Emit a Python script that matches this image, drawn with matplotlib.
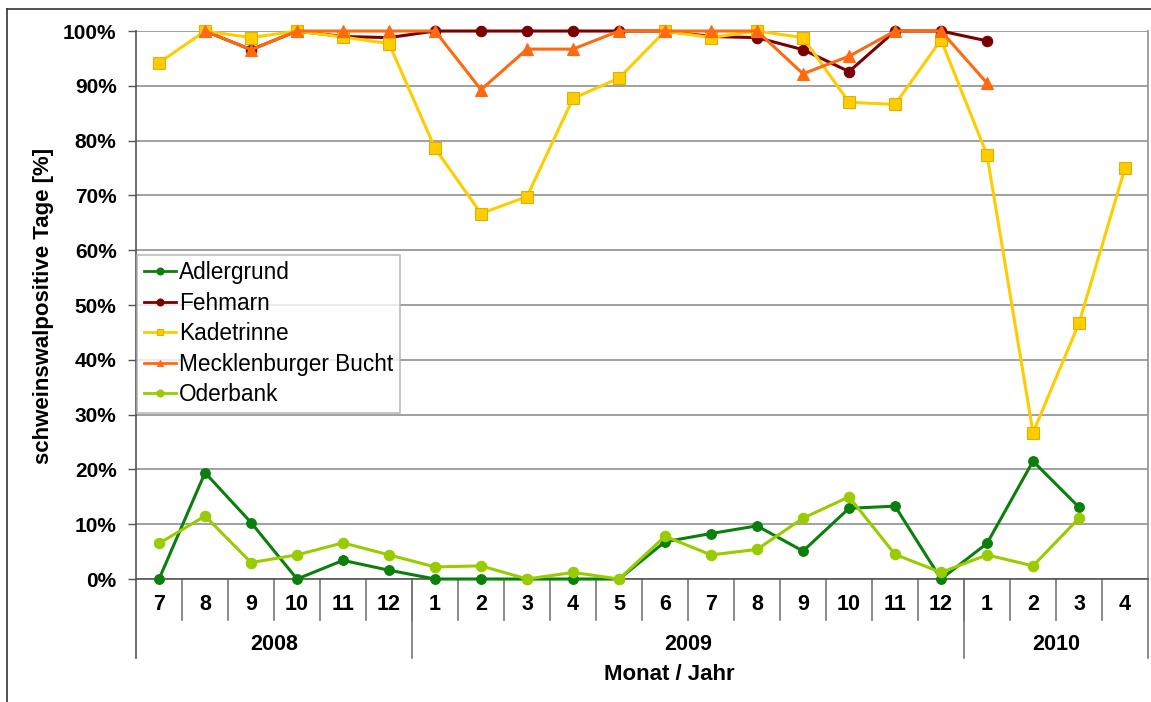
import numpy as np
import matplotlib
matplotlib.use('Agg')
from matplotlib import pyplot as plt
from matplotlib.lines import Line2D

plt.rcParams['font.family'] = ['Liberation Sans', 'DejaVu Sans']

# Monate / Jahre
months = ['7', '8', '9', '10', '11', '12',
          '1', '2', '3', '4', '5', '6', '7', '8', '9', '10', '11', '12',
          '1', '2', '3', '4']
years = ['2008', '2009', '2010']
year_counts = [6, 12, 4]

nan = np.nan
# Anteil schweinswalpositiver Tage in %
adlergrund = [0.0, 19.4, 10.3, 0.0, 3.4, 1.6,
              0.0, 0.0, 0.0, 0.0, 0.0, 6.8, 8.3, 9.7, 5.1, 12.9, 13.3, 0.0,
              6.5, 21.5, 13.1, nan]
fehmarn = [nan, 100.0, 96.6, 100.0, 99.0, 98.8,
           100.0, 100.0, 100.0, 100.0, 100.0, 100.0, 99.0, 98.8, 96.6, 92.6, 100.0, 100.0,
           98.2, nan, nan, nan]
kadetrinne = [94.2, 100.0, 98.8, 100.0, 98.9, 97.7,
              78.6, 66.7, 69.8, 87.7, 91.4, 100.0, 98.8, 100.0, 98.8, 87.0, 86.6, 98.4,
              77.4, 26.7, 46.7, 75.0]
mecklenburg = [nan, 100.0, 96.6, 100.0, 100.0, 100.0,
               100.0, 89.3, 96.7, 96.7, 100.0, 100.0, 100.0, 100.0, 92.2, 95.4, 100.0, 100.0,
               90.5, nan, nan, nan]
oderbank = [6.5, 11.5, 3.0, 4.4, 6.6, 4.4,
            2.2, 2.4, 0.0, 1.2, 0.0, 7.8, 4.4, 5.4, 11.1, 15.0, 4.5, 1.2,
            4.4, 2.4, 11.1, nan]

series = [
    ('Adlergrund', adlergrund, '#0b7f0b', '#0b7f0b', 'o', 7),
    ('Fehmarn', fehmarn, '#7a0000', '#7a0000', 'o', 7.5),
    ('Kadetrinne', kadetrinne, '#ffcc00', '#e0b000', 's', 8),
    ('Mecklenburger Bucht', mecklenburg, '#ff6a10', '#ff6a10', '^', 9),
    ('Oderbank', oderbank, '#99cc00', '#99cc00', 'o', 7.5),
]

fig = plt.figure(figsize=(11.51, 7.02), dpi=100)
ax = fig.add_axes([0.1182, 0.1752, 0.8792, 0.7806])

x = np.arange(len(months))
for name, vals, col, ecol, mk, ms in series:
    ax.plot(x, np.array(vals) / 100.0, color=col, lw=2.2, marker=mk, ms=ms,
            markerfacecolor=col, markeredgecolor=ecol, markeredgewidth=0.8,
            label=name, clip_on=False, zorder=3)

ax.set_xlim(-0.5, len(months) - 0.5)
ax.set_ylim(0, 1)
ax.set_yticks(np.arange(0, 1.01, 0.1))
ax.set_yticklabels(['%d%%' % v for v in range(0, 101, 10)],
                   fontsize=15, fontweight='bold')
ax.tick_params(axis='y', length=6, width=1, color='#555555', pad=8)
ax.set_xticks([])
ax.yaxis.grid(True, color='#999999', lw=1.3)
ax.set_axisbelow(True)

for s in ['top', 'left']:
    ax.spines[s].set_visible(False)
ax.spines['right'].set_color('#999999')
ax.spines['right'].set_linewidth(1.3)
ax.spines['bottom'].set_color('#555555')
ax.spines['bottom'].set_linewidth(1.2)

# linke Achse, nach unten verlaengert
ax.plot([-0.5, -0.5], [-0.144, 1.0], color='#555555', lw=1.2,
        clip_on=False, zorder=4)

trans = ax.get_xaxis_transform()
# Monatstrenner und -beschriftung
for i, m in enumerate(months):
    if i > 0:
        ax.plot([i - 0.5, i - 0.5], [0, -0.075], color='#777777', lw=1.2,
                transform=trans, clip_on=False)
    ax.text(i, -0.046, m, transform=trans, ha='center', va='center',
            fontsize=15.5, fontweight='bold')

# Jahrestrenner und -beschriftung
start = 0
for yr, n in zip(years, year_counts):
    end = start + n
    ax.plot([end - 0.5, end - 0.5], [0, -0.144], color='#777777', lw=1.2,
            transform=trans, clip_on=False)
    ax.text((start + end - 1) / 2.0, -0.12, yr, transform=trans, ha='center',
            va='center', fontsize=15.5, fontweight='bold')
    start = end

ax.text(0.527, -0.175, 'Monat / Jahr', transform=ax.transAxes, ha='center',
        va='center', fontsize=16, fontweight='bold')
fig.text(0.038, 0.564, 'schweinswalpositive Tage [%]', rotation=90,
         ha='center', va='center', fontsize=16, fontweight='bold')

leg = ax.legend(loc='upper left', bbox_to_anchor=(0.001, 0.592), fontsize=16.3,
                frameon=True, fancybox=False, handlelength=1.4,
                handletextpad=0.15, labelspacing=0.33, borderpad=0.3,
                borderaxespad=0.0)
leg.get_frame().set_edgecolor('#aaaaaa')
leg.get_frame().set_linewidth(1.2)
for h in leg.legend_handles:
    h.set_markersize(5)
    h.set_linewidth(2)

# Rahmen links und oben
fig.add_artist(Line2D([0.0065, 0.0065], [0, 0.987], color='#333333', lw=1.2))
fig.add_artist(Line2D([0.0065, 1.0], [0.987, 0.987], color='#333333', lw=1.2))

fig.savefig('out.png', dpi=100)
